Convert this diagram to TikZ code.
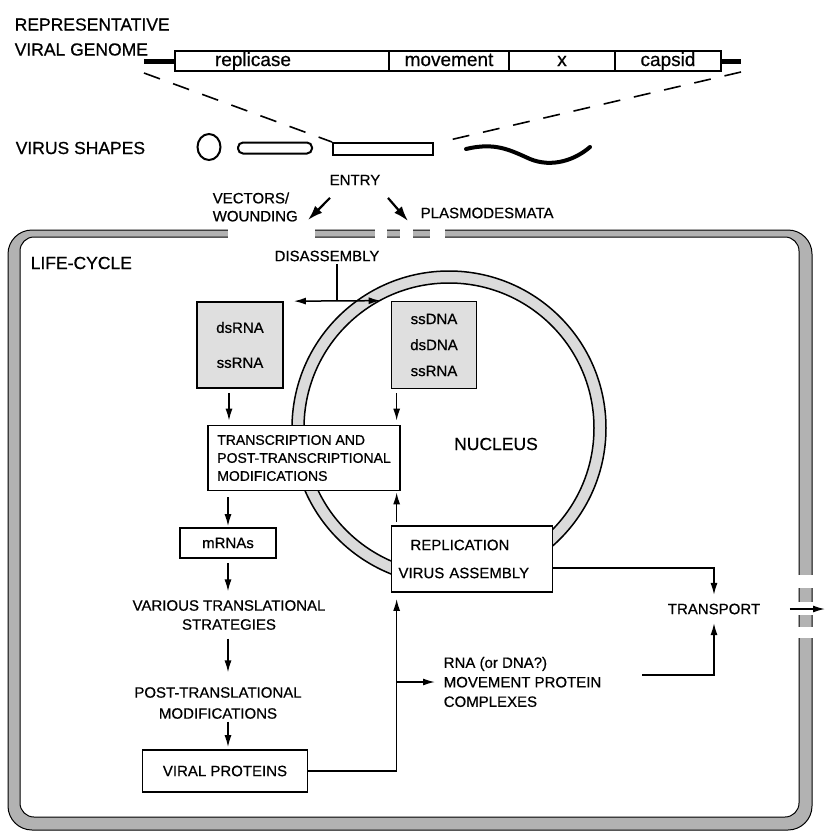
\documentclass[tikz,border=0pt]{standalone}
\usepackage{fontspec}
\setmainfont{Liberation Sans}[FakeBold=0.6]
\usetikzlibrary{arrows.meta,positioning,shapes.geometric}

\begin{document}
\begin{tikzpicture}[x=1pt,y=-1pt,>={Latex[length=12pt,width=7pt]},line width=1.5pt]
  \tikzstyle{lbl}=[font=\fontsize{15}{18}\selectfont,inner sep=2pt]
  \tikzstyle{head}=[font=\fontsize{17.5}{25}\selectfont,inner sep=0pt]
  \tikzstyle{box}=[lbl,draw,fill=white,line width=1.7pt]
  \tikzstyle{gbox}=[box,fill=gray!25]
  \tikzstyle{seg}=[draw,fill=white,line width=1.7pt,minimum height=20pt,inner sep=0pt,text height=14pt,text depth=4pt,font=\fontsize{19}{20}\selectfont]
  \tikzstyle{vshape}=[draw,line width=2pt,inner sep=0pt]
  \tikzstyle{big}=[line width=2.2pt,-{Latex[length=15pt,width=10pt]}]
  \useasboundingbox (0,0) rectangle (825,831);

  \node[head,align=left,anchor=west] (title) at (14,37) {REPRESENTATIVE\\VIRAL GENOME};
  \coordinate (g5) at (144,61);
  \coordinate (g3) at (741,61);
  \draw[line width=5pt] (g5) -- (175,61) (721,61) -- (g3);
  \node[seg,minimum width=214pt] (rep) at (282,61) {};
  \node[seg,minimum width=120pt] (mov) at (449,61) {movement};
  \node[seg,minimum width=106pt] (xx) at (562,61) {x};
  \node[seg,minimum width=106pt] (cap) at (668,61) {capsid};
  \node[seg,draw=none,fill=none] (replab) at (253,61) {replicase};

  \node[head,anchor=west] (shp) at (15,148) {VIRUS SHAPES};
  \node[vshape,ellipse,minimum width=23pt,minimum height=26pt] (sph) at (209,147) {};
  \node[vshape,rounded corners=5pt,minimum width=74pt,minimum height=11pt] (fil) at (275,148) {};
  \node[vshape,minimum width=100pt,minimum height=12pt] (rod) at (383,149) {};
  \draw[line width=4pt,line cap=round] (466,149) .. controls (495,142) and (510,150) .. (530,159) .. controls (552,168) and (575,160) .. (590,147);
  \draw[line width=1.6pt,dash pattern=on 17pt off 14pt] ([yshift=-12pt]g5) -- (rod.north west);
  \draw[line width=1.6pt,dash pattern=on 17pt off 14pt] ([yshift=-11pt]g3) -- ([xshift=7pt]rod.north east);

  \node[lbl] (entry) at (355,180) {ENTRY};
  \node[lbl,align=left,anchor=west] (vec) at (210,207) {VECTORS/\\WOUNDING};
  \node[lbl,anchor=west] (plas) at (418,213) {PLASMODESMATA};
  \coordinate (vw) at (308,220);
  \coordinate (pd) at (408,221);
  \draw[big] ([xshift=-25pt,yshift=-10pt]entry.south) -- (vw);
  \draw[big] ([xshift=33pt,yshift=-10pt]entry.south) -- (pd);

  \fill[gray!60,even odd rule,rounded corners=24pt] (8,230) rectangle (812,830) [rounded corners=14pt] (20,237) rectangle (799,817);
  \draw[line width=1pt,rounded corners=24pt] (8,230) rectangle (812,830) [rounded corners=14pt] (20,237) rectangle (799,817);
  \foreach \a/\b in {228/315,375/387,400/413,430/445}
    \fill[white] (\a,225) rectangle (\b,242);
  \foreach \a/\b in {575/588,602/615,627/638}
    \fill[white] (794,\a) rectangle (817,\b);

  \fill[gray!28,even odd rule] (449,428) circle (157pt) (449,428) circle (145pt);
  \draw (449,428) circle (157pt) (449,428) circle (145pt);
  \node[head] (nuc) at (496,444) {NUCLEUS};
  \node[head,anchor=west] (life) at (30,263) {LIFE-CYCLE};
  \node[lbl] (dis) at (327,256) {DISASSEMBLY};

  \node[gbox,minimum width=86pt,minimum height=86pt,align=center] (ds) at (240,345) {dsRNA\\[17pt]ssRNA};
  \node[gbox,minimum width=85pt,minimum height=87pt,align=center] (dna) at (434,345) {ssDNA\\[8pt]dsDNA\\[8pt]ssRNA};
  \node[box,font=\fontsize{14}{18}\selectfont,align=left,minimum width=192pt,minimum height=65pt] (tr) at (304,458) {TRANSCRIPTION AND\\POST-TRANSCRIPTIONAL\\MODIFICATIONS};
  \node[box,minimum width=96pt,minimum height=30pt] (mr) at (228,543) {mRNAs};
  \node[lbl,align=center,font=\fontsize{15}{19}\selectfont] (vts) at (229,615) {VARIOUS TRANSLATIONAL\\STRATEGIES};
  \node[lbl,align=center,font=\fontsize{15}{21}\selectfont] (ptm) at (218,703) {POST-TRANSLATIONAL\\MODIFICATIONS};
  \node[box,minimum width=165pt,minimum height=42pt] (vp) at (225,771) {VIRAL PROTEINS};
  \node[box,align=left,text width=147pt,inner xsep=5pt,minimum width=161pt,minimum height=66pt] (rp) at (472,559) {\hspace*{12pt}REPLICATION\\[10pt]VIRUS ASSEMBLY};
  \node[lbl] (tra) at (714,609) {TRANSPORT};
  \node[lbl,align=left,anchor=west,font=\fontsize{15}{19.5}\selectfont] (mpc) at (441,682) {RNA (or DNA?)\\MOVEMENT PROTEIN\\COMPLEXES};
  \coordinate (out) at (825,609);

  \draw ([xshift=10pt]dis.south) -- ([xshift=10pt]dis.south |- ds.north);
  \draw[<->] ([xshift=10pt]ds.north east) -- ([xshift=-10pt]dna.north west);
  \draw[->,shorten <=4pt,shorten >=4pt] ([xshift=-11pt]ds.south) -- ([xshift=-11pt]ds.south |- tr.north);
  \draw[->,shorten <=4pt,shorten >=4pt] ([xshift=6pt]dna.south west) -- ([xshift=6pt]dna.south west |- tr.north);
  \draw[->,shorten <=6pt,shorten >=1pt] (mr.north |- tr.south) -- (mr.north);
  \draw[->,shorten <=4pt,shorten >=6pt] (mr.south) -- (mr.south |- vts.north);
  \draw[->,shorten <=6pt,shorten >=12pt] (mr.south |- vts.south) -- (mr.south |- ptm.north);
  \draw[->,shorten >=2pt] (mr.south |- ptm.south) -- (mr.south |- vp.north);
  \draw[->,shorten >=6pt] (vp.east) -| ([xshift=6pt]rp.south west);
  \draw[->,shorten >=6pt] ([xshift=6pt]rp.south west |- mpc.west) -- (mpc.west);
  \draw[->,shorten <=3pt,shorten >=1pt] ([xshift=6pt]rp.north west) -- ([xshift=6pt]rp.north west |- tr.south);
  \draw[->,shorten >=6pt] ([yshift=-9pt]rp.east) -| (tra.north);
  \draw[->,shorten >=6pt] ([xshift=38pt,yshift=7pt]mpc.east) -| (tra.south);
  \draw[->] ([xshift=27pt]tra.east) -- (out);
\end{tikzpicture}
\end{document}
